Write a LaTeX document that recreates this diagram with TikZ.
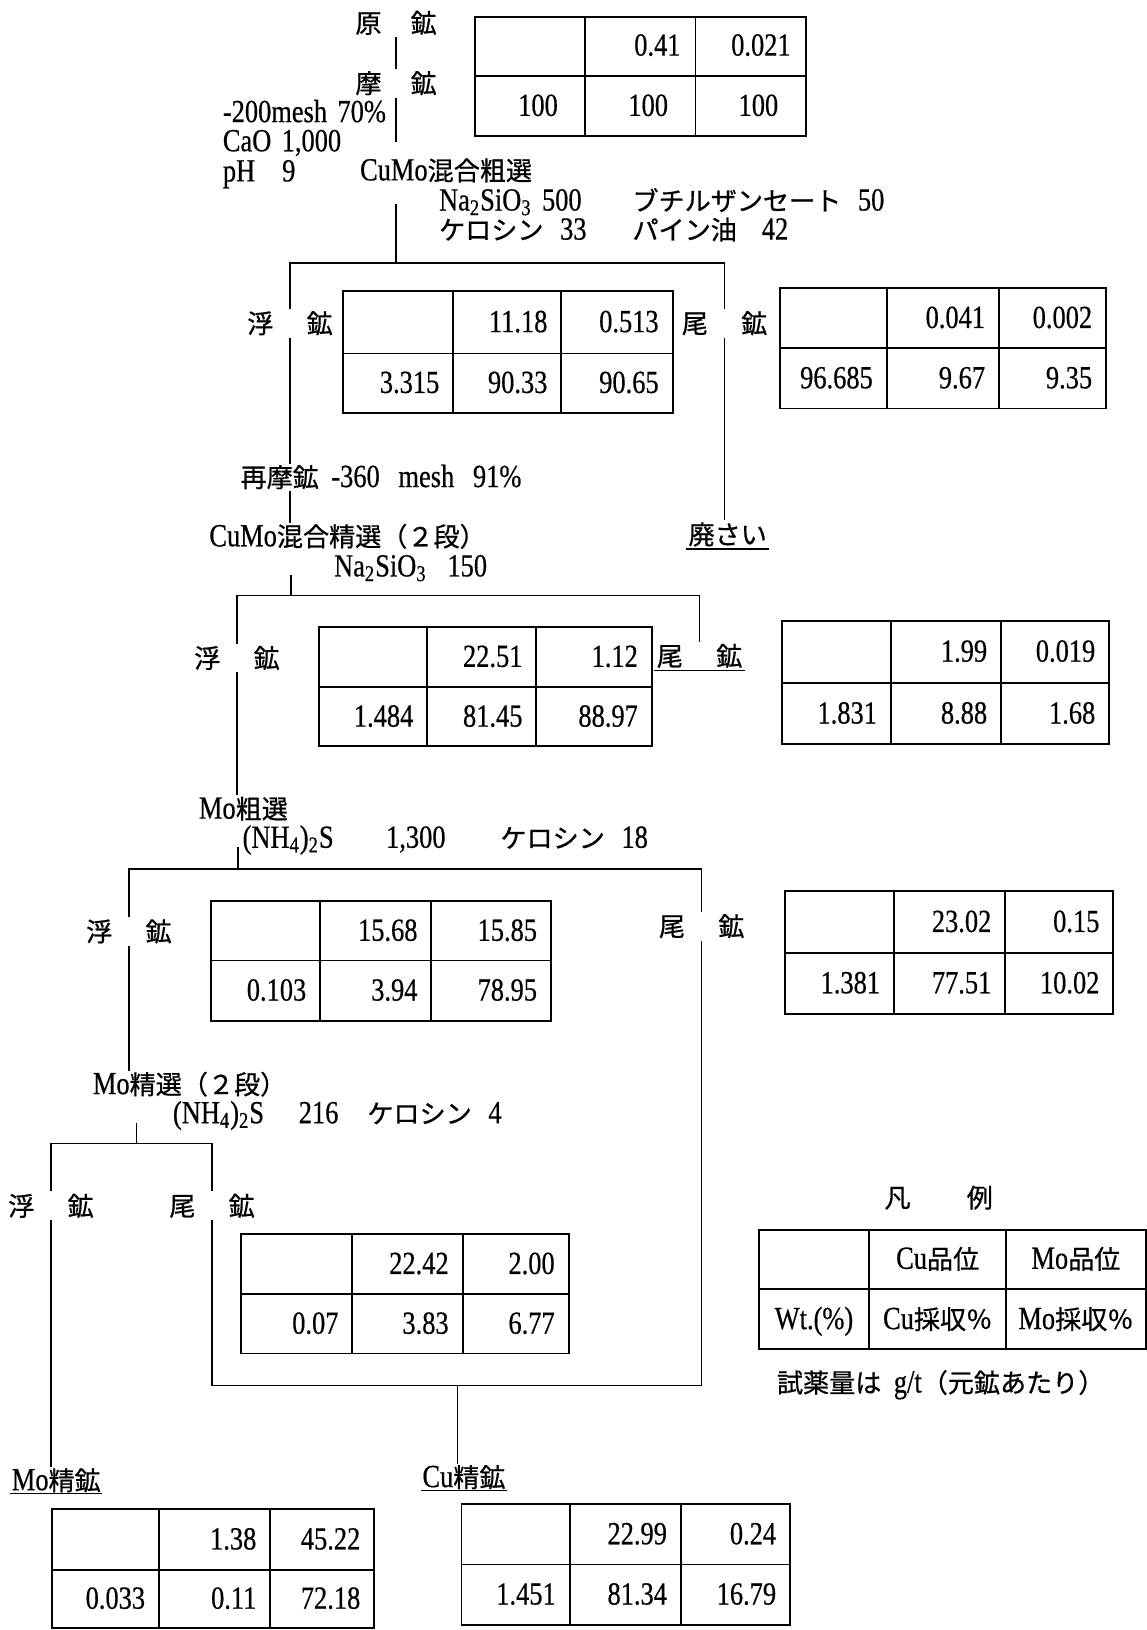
\documentclass[tikz,border=0pt]{standalone}
\usepackage{fontspec}
\setmainfont[FakeStretch=0.82,FakeBold=0.5]{Liberation Serif}
\newfontfamily\jp[Scale=0.81,FakeBold=0.7]{Noto Sans CJK JP}
\usetikzlibrary{fit}
\newcommand\fs{\fontsize{15.5pt}{18pt}\selectfont\spaceskip=5pt plus 1pt}
\tikzset{
 conn/.style={line width=0.65pt},
 tbl/.style={draw, line width=0.9pt, inner sep=0pt},
 tline/.style={line width=0.9pt},
 tb/.style={text height=10.5pt, text depth=1pt},
 txt/.style={font=\fs, tb, inner sep=0.5pt, anchor=west},
 lbl/.style={font=\fs\jp, tb, inner sep=1pt},
 val/.style={font=\fs, tb, inner sep=0pt, anchor=east},
 ctr/.style={font=\fs, tb, inner sep=0pt},
 ul/.style={line width=0.7pt}
}
\newcommand\datatable[8]{%
  \node[tbl, fit={(#2,#3) (#4,#5)}] (#1) {};
  \draw[tline] (#2,#6) -- (#4,#6) (#7,#3) -- (#7,#5) (#8,#3) -- (#8,#5);
  \coordinate (#1pa) at (#7-13,0);
  \coordinate (#1pb) at (#8-13,0);
  \coordinate (#1pc) at (#4-13,0);
  \coordinate (#1ra) at (0,{(#3+#6)/2});
  \coordinate (#1rb) at (0,{(#6+#5)/2});
}
\newcommand\cells[6]{%
  \node[val] (#1v1) at (#1pb |- #1ra) {#2};
  \node[val] (#1v2) at (#1pc |- #1ra) {#3};
  \node[val] (#1v3) at (#1pa |- #1rb) {#4};
  \node[val] (#1v4) at (#1pb |- #1rb) {#5};
  \node[val] (#1v5) at (#1pc |- #1rb) {#6};
}
\begin{document}
\begin{tikzpicture}[x=0.5pt,y=-0.5pt]
\fill[white] (0,0) rectangle (1103,1568);
\useasboundingbox (0,0) rectangle (1103,1568);

% ---- top: raw ore and grinding
\node[lbl] (raw) at (381,22) {原\hspace{14pt}鉱};
\node[lbl] (grind) at (381,80) {摩\hspace{14pt}鉱};
\draw[conn] (raw) -- (grind);
\coordinate (g1) at (381,137);
\draw[conn] (grind) -- (g1);
\node[txt] (mesh) at (213,108) {-200mesh 70\%};
\node[txt] (cao) at (213,136) {CaO 1,000};
\node[txt] (ph) at (213,165) {pH\hspace{13pt}9};
\node[txt] (rough) at (345,164) {CuMo{\jp 混合粗選}};
\node[txt] (r1a) at (421,193) {Na\textsubscript{2}SiO\textsubscript{3} 500};
\node[txt] (r1b) at (607,193) {{\jp ブチルザンセート}\hspace{8pt}50};
\node[txt] (r1c) at (421,221) {{\jp ケロシン}\hspace{8pt}33};
\node[txt] (r1d) at (607,221) {{\jp パイン油}\hspace{12pt}42};
\datatable{t1}{457}{16}{775}{131}{73}{563}{669}
\node[val] (t1v1) at (655,44) {0.41};
\node[val] (t1v2) at (761,44) {0.021};
\node[val] (t1v3) at (537,102) {100};
\node[val] (t1v4) at (643,102) {100};
\node[val] (t1v5) at (749,102) {100};

% ---- CuMo rougher
\coordinate (r1s) at (381,196);
\coordinate (j1) at (381,253);
\draw[conn] (r1s) -- (j1);
\node[lbl] (fl1) at (279,311) {浮\hspace{16pt}鉱};
\node[lbl] (tl1) at (697,311) {尾\hspace{16pt}鉱};
\draw[conn] (fl1.north) |- (j1) -| (tl1.north);
\datatable{t2}{330}{280}{647}{397}{340}{436}{540}
\cells{t2}{11.18}{0.513}{3.315}{90.33}{90.65}
\datatable{t3}{750}{277}{1064}{393}{335}{853}{961}
\cells{t3}{0.041}{0.002}{96.685}{9.67}{9.35}

\node[txt] (regrind) at (230,459) {{\jp 再摩鉱}\hspace{6pt}-360\hspace{9pt}mesh\hspace{9pt}91\%};
\draw[conn] (fl1.south) -- (fl1.south |- regrind.north);
\node[txt] (clean1) at (200,516) {CuMo{\jp 混合精選（２段）}};
\draw[conn] (fl1.south |- regrind.south) -- (fl1.south |- clean1.north);
\node[lbl] (waste) at (700,514) {廃さい};
\draw[conn] (tl1.south) -- (tl1.south |- waste.north);
\draw[ul] (waste.south west) -- (waste.south east);

% ---- CuMo cleaner
\node[txt] (c1a) at (320,545) {Na\textsubscript{2}SiO\textsubscript{3}\hspace{10pt}150};
\coordinate (c1s) at (280,553);
\coordinate (j2) at (280,573);
\draw[conn] (c1s) -- (j2);
\node[lbl] (fl2) at (228,633) {浮\hspace{16pt}鉱};
\node[lbl] (tl2) at (673,631) {尾\hspace{16pt}鉱};
\draw[conn] (fl2.north) |- (j2) -| (tl2.north);
\draw[ul] (tl2.south west) -- (tl2.south east);
\datatable{t4}{307}{603}{627}{718}{661}{411}{516}
\cells{t4}{22.51}{1.12}{1.484}{81.45}{88.97}
\datatable{t5}{752}{597}{1067}{716}{657}{857}{963}
\cells{t5}{1.99}{0.019}{1.831}{8.88}{1.68}

% ---- Mo rougher
\node[txt] (mo1) at (190,778) {Mo{\jp 粗選}};
\draw[conn] (fl2.south) -- (fl2.south |- mo1.north);
\node[txt] (m1a) at (232,806) {(NH\textsubscript{4})\textsubscript{2}S};
\node[txt] (m1b) at (370,806) {1,300};
\node[txt] (m1c) at (480,806) {{\jp ケロシン}\hspace{8pt}18};
\coordinate (m1s) at (229,815);
\coordinate (j3) at (229,836);
\draw[conn] (m1s) -- (j3);
\node[lbl] (fl3) at (124,896) {浮\hspace{16pt}鉱};
\node[lbl] (tl3) at (675,891) {尾\hspace{16pt}鉱};
\draw[conn] (fl3.north) |- (j3) -| (tl3.north);
\datatable{t6}{203}{867}{530}{982}{924}{308}{415}
\cells{t6}{15.68}{15.85}{0.103}{3.94}{78.95}
\datatable{t7}{755}{857}{1071}{975}{917}{860}{967}
\cells{t7}{23.02}{0.15}{1.381}{77.51}{10.02}

% ---- Mo cleaner
\node[txt] (mo2) at (88,1043) {Mo{\jp 精選（２段）}};
\draw[conn] (fl3.south) -- (fl3.south |- mo2.north);
\node[txt] (m2a) at (165,1071) {(NH\textsubscript{4})\textsubscript{2}S};
\node[txt] (m2b) at (286,1071) {216};
\node[txt] (m2c) at (352,1071) {{\jp ケロシン}\hspace{8pt}4};
\coordinate (m2s) at (131,1080);
\coordinate (j4) at (131,1100);
\draw[conn] (m2s) -- (j4);
\node[lbl] (fl4) at (49,1160) {浮\hspace{16pt}鉱};
\node[lbl] (tl4) at (204,1160) {尾\hspace{16pt}鉱};
\draw[conn] (fl4.north) |- (j4) -| (tl4.north);
\datatable{t8}{232}{1187}{547}{1302}{1245}{339}{445}
\cells{t8}{22.42}{2.00}{0.07}{3.83}{6.77}

% ---- concentrates
\node[txt] (mocon) at (10,1424) {Mo{\jp 精鉱}};
\node[txt] (cucon) at (405,1421) {Cu{\jp 精鉱}};
\draw[ul] (mocon.south west) -- (mocon.south east);
\draw[ul] (cucon.south west) -- (cucon.south east);
\draw[conn] (fl4.south) -- (fl4.south |- mocon.north);
\coordinate (j5) at (440,1333);
\draw[conn] (tl4.south) |- (j5) -| (tl3.south);
\draw[conn] (j5) -- (j5 |- cucon.north);
\datatable{t9}{50}{1452}{360}{1566}{1510}{153}{260}
\cells{t9}{1.38}{45.22}{0.033}{0.11}{72.18}
\datatable{t10}{444}{1447}{760}{1563}{1505}{548}{655}
\cells{t10}{22.99}{0.24}{1.451}{81.34}{16.79}

% ---- legend
\node[lbl] (legtitle) at (903,1152) {凡\hspace{27pt}例};
\datatable{leg}{730}{1183}{1102}{1298}{1240}{836}{968}
\node[ctr] (lega) at (902,1211) {Cu{\jp 品位}};
\node[ctr] (legb) at (1035,1211) {Mo{\jp 品位}};
\node[ctr] (legc) at (783,1269) {Wt.(\%)};
\node[ctr] (legd) at (902,1269) {Cu{\jp 採収％}};
\node[ctr] (lege) at (1035,1269) {Mo{\jp 採収％}};
\node[txt] (note) at (746,1330) {{\jp 試薬量は}\hspace{6pt}g/t{\jp （元鉱あたり）}};
\end{tikzpicture}
\end{document}
